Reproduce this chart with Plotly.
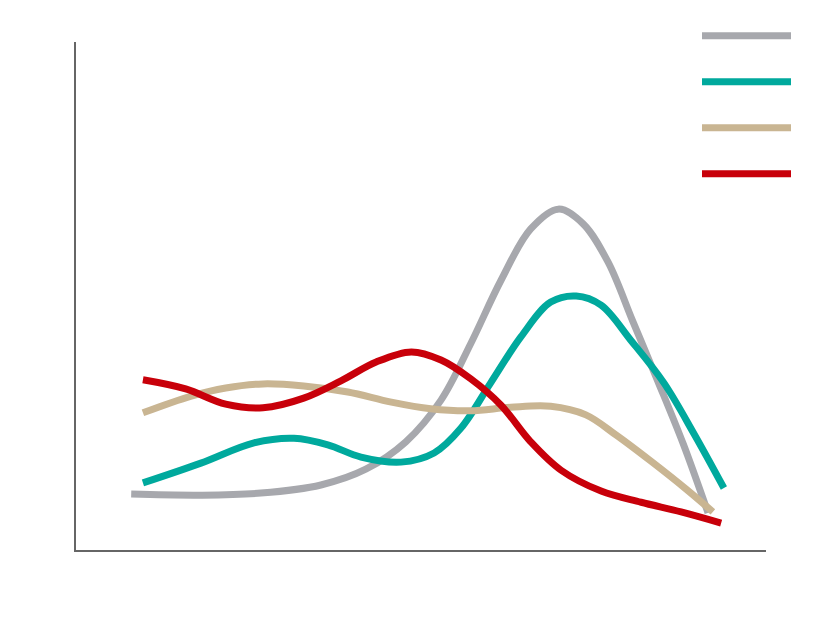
import plotly.graph_objects as go

# x positions (0-100) and values (0-100)
gray_x = [8.0, 18.1, 26.8, 35.5, 42.0, 47.8, 52.9, 57.2, 61.6, 65.9, 69.9, 73.5, 77.1, 80.7,
          84.3, 88.0, 91.6]
gray_y = [11.0, 10.8, 11.2, 12.8, 15.9, 21.3, 29.5, 40.6, 53.1, 63.2, 67.1, 64.2, 56.7, 45.0,
          33.3, 20.9, 7.3]

teal_x = [9.7, 18.1, 25.8, 31.6, 36.5, 41.3, 47.1, 51.9, 55.8, 60.1, 64.5, 68.8, 72.5, 76.1,
          80.4, 85.2, 89.6, 93.9]
teal_y = [13.2, 17.1, 21.1, 22.0, 20.7, 18.3, 17.3, 19.1, 24.0, 32.9, 42.0, 48.8, 50.0, 48.2,
          41.3, 32.9, 22.8, 12.2]

tan_x = [9.7, 16.7, 21.7, 27.1, 33.0, 39.4, 45.7, 51.4, 57.2, 63.0, 68.8, 73.9, 78.3, 83.3,
         88.4, 92.3]
tan_y = [27.0, 30.3, 31.9, 32.7, 32.3, 31.1, 29.1, 27.8, 27.4, 28.1, 28.3, 26.6, 22.6, 17.5,
         12.0, 7.5]

red_x = [9.7, 15.9, 21.7, 27.1, 33.0, 38.4, 43.5, 48.6, 52.9, 57.2, 61.6, 65.9, 70.3, 76.1,
         81.9, 87.7, 93.5]
red_y = [33.5, 31.7, 28.7, 28.0, 29.9, 33.3, 37.0, 39.0, 37.4, 33.7, 28.5, 21.3, 15.7, 11.6,
         9.4, 7.5, 5.3]

series = [
    ("gray", gray_x, gray_y, "#a7a8ad"),
    ("teal", teal_x, teal_y, "#00a99d"),
    ("tan", tan_x, tan_y, "#c9b592"),
    ("red", red_x, red_y, "#c8000a"),
]

fig = go.Figure()
for key, xs, ys, color in series:
    fig.add_trace(go.Scatter(
        x=xs, y=ys, mode="lines", name=" ", legendgroup=key,
        line=dict(color=color, width=7, shape="spline", smoothing=1.0),
        hoverinfo="skip",
    ))

fig.update_layout(
    width=839, height=623,
    margin=dict(l=68, r=81, t=34, b=81, autoexpand=False),
    paper_bgcolor="white", plot_bgcolor="white",
    showlegend=True,
    legend=dict(x=0.9, y=1.041, xanchor="left", yanchor="top",
                itemwidth=89, tracegroupgap=27, font=dict(size=12),
                bgcolor="rgba(0,0,0,0)"),
    xaxis=dict(range=[0, 100], showline=True, linecolor="#666666", linewidth=2,
               showgrid=False, zeroline=False, showticklabels=False, ticks=""),
    yaxis=dict(range=[0, 100], showline=True, linecolor="#666666", linewidth=1.5,
               showgrid=False, zeroline=False, showticklabels=False, ticks=""),
)

fig.write_html("out.html")
